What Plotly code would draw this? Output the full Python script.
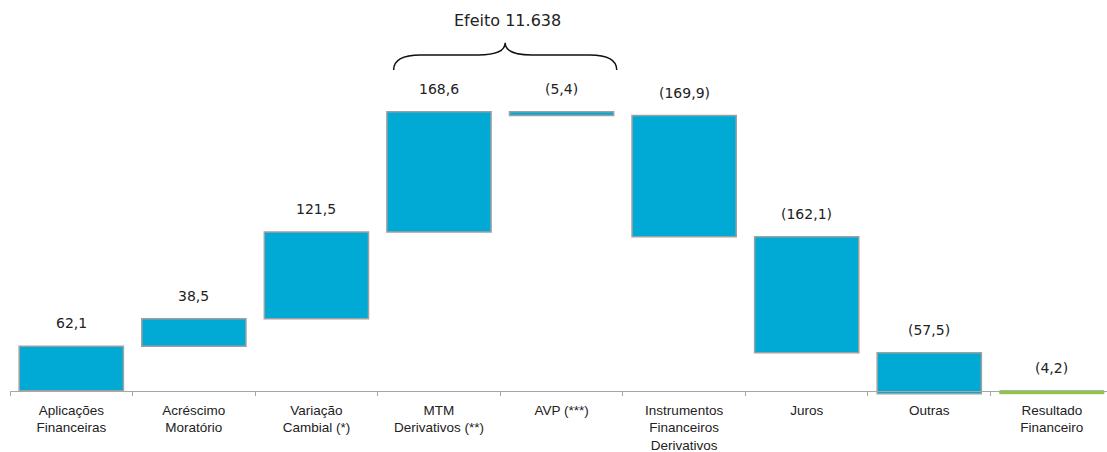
import numpy as np
import plotly.graph_objects as go

# Categories and the contribution of each item (R$ milhões)
categories = [
    "Aplicações<br>Financeiras",
    "Acréscimo<br>Moratório",
    "Variação<br>Cambial (*)",
    "MTM<br>Derivativos (**)",
    "AVP (***)",
    "Instrumentos<br>Financeiros<br>Derivativos",
    "Juros",
    "Outras",
    "Resultado<br>Financeiro",
]
values = [62.1, 38.5, 121.5, 168.6, -5.4, -169.9, -162.1, -57.5, -4.2]
measures = ["relative"] * 8 + ["total"]
brace_label = "Efeito 11.638"

BLUE = "#00AAD4"
GREEN = "#8DC63F"
EDGE = "#A0A0A0"
TEXT = "#222222"

Y_MIN, Y_MAX = -6, 547


def fmt(v):
    s = f"{abs(v):.1f}".replace(".", ",")
    return f"({s})" if v < 0 else s


fig = go.Figure(
    go.Waterfall(
        x=categories,
        y=values,
        measure=measures,
        width=0.85,
        increasing=dict(marker=dict(color=BLUE, line=dict(color=EDGE, width=1.5))),
        decreasing=dict(marker=dict(color=BLUE, line=dict(color=EDGE, width=1.5))),
        totals=dict(marker=dict(color=GREEN, line=dict(color=GREEN, width=1))),
        connector=dict(visible=False),
        hoverinfo="skip",
    )
)

# Value labels above the top edge of each bar
rel = np.array(values[:-1])
ends = np.cumsum(rel)
starts = ends - rel
tops = list(np.maximum(starts, ends)) + [0.0]
for cat, v, top in zip(categories, values, tops):
    fig.add_annotation(
        x=cat, y=top, text=fmt(v), showarrow=False,
        yanchor="middle", yshift=23,
        font=dict(family="DejaVu Sans", size=14, color=TEXT),
    )

# Curly brace grouping MTM Derivativos and AVP
xa, xb = 2.63, 4.45
xm = (xa + xb) / 2
y_tip, y_bar, y_apex = 449, 470, 487
r = 0.22
path = (
    f"M {xa},{y_tip} Q {xa},{y_bar} {xa + r},{y_bar} "
    f"L {xm - r},{y_bar} Q {xm},{y_bar} {xm},{y_apex} "
    f"Q {xm},{y_bar} {xm + r},{y_bar} "
    f"L {xb - r},{y_bar} Q {xb},{y_bar} {xb},{y_tip}"
)
fig.add_shape(type="path", path=path, xref="x", yref="y",
              line=dict(color="#111111", width=1.5))
fig.add_annotation(
    x=xm + 0.02, y=518, xref="x", yref="y", text=brace_label, showarrow=False,
    font=dict(family="DejaVu Sans", size=16, color=TEXT),
)

fig.update_layout(
    width=1107, height=452,
    margin=dict(l=10, r=0, t=0, b=57),
    paper_bgcolor="white", plot_bgcolor="white",
    showlegend=False,
    xaxis=dict(
        type="category",
        range=[-0.5, 8.45],
        anchor="free",
        position=(0 - Y_MIN) / (Y_MAX - Y_MIN),
        showline=True, linecolor="#A6A6A6", linewidth=1,
        ticks="outside", ticklen=4, tickcolor="#A6A6A6",
        tickson="boundaries",
        ticklabelstandoff=7,
        showgrid=False, zeroline=False,
        tickfont=dict(family="Liberation Sans", size=13.5, color=TEXT),
    ),
    yaxis=dict(range=[Y_MIN, Y_MAX], visible=False),
)

fig.write_html("out.html")
